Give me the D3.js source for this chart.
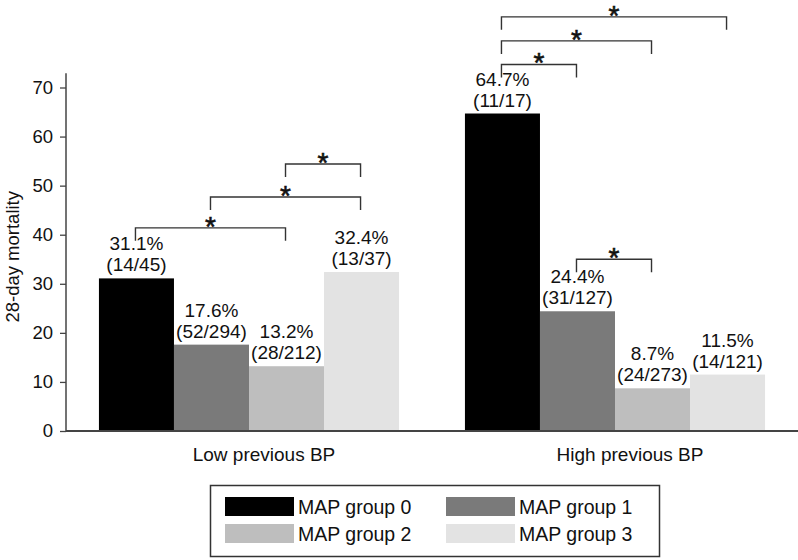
<!DOCTYPE html>
<html>
<head>
<meta charset="utf-8">
<script src="https://cdn.jsdelivr.net/npm/d3@7"></script>
<style>
  html, body { margin: 0; padding: 0; background: #fff; }
  svg { display: block; font-family: "Liberation Sans", Arial, Helvetica, sans-serif; }
</style>
</head>
<body>
<svg id="chart" width="798" height="560"></svg>
<script>
// ---- data ----
const categories = ["Low previous BP", "High previous BP"];
const groups = ["MAP group 0", "MAP group 1", "MAP group 2", "MAP group 3"];
const lowValues = [31.1, 17.6, 13.2, 32.4];
const highValues = [64.7, 24.4, 8.7, 11.5];
const lowCounts = ["(14/45)", "(52/294)", "(28/212)", "(13/37)"];
const highCounts = ["(11/17)", "(31/127)", "(24/273)", "(14/121)"];
const yTicks = [0, 10, 20, 30, 40, 50, 60, 70];
const colors = ["#000000", "#7a7a7a", "#bebebe", "#e3e3e3"];
// significance brackets: [from bar, to bar, level (y units)]
const lowBrackets = [[0, 2, 41.4], [1, 3, 47.7], [2, 3, 54.4]];
const highBrackets = [[0, 1, 74.7], [0, 2, 79.5], [0, 3, 84.4], [1, 2, 35.0]];
const yTitle = "28-day mortality";

const values = [lowValues, highValues];
const counts = [lowCounts, highCounts];
const brackets = [lowBrackets, highBrackets];

// ---- layout ----
const svg = d3.select("#chart");
const axisX = 66;
const x0 = d3.scaleBand().domain(categories).range([axisX, 798])
  .paddingInner(0.18).paddingOuter(0.09);
const x1 = d3.scaleBand().domain(groups).range([0, x0.bandwidth()]).padding(0);
const y = d3.scaleLinear().domain([0, 70]).range([431, 87.5]);
const color = d3.scaleOrdinal().domain(groups).range(colors);

// y axis
const yAxis = svg.append("g")
  .attr("transform", `translate(${axisX},0)`)
  .call(d3.axisLeft(y).tickValues(yTicks).tickSize(6).tickSizeOuter(0).tickPadding(7));
yAxis.select(".domain").remove();
yAxis.selectAll(".tick line").attr("stroke", "#444").attr("stroke-width", 1.3);
yAxis.selectAll(".tick text")
  .attr("font-size", 18.5).attr("fill", "#111")
  .attr("font-family", "'Liberation Sans', Arial, sans-serif");
yAxis.append("line")
  .attr("x1", 0).attr("x2", 0).attr("y1", y(0)).attr("y2", y(72.9))
  .attr("stroke", "#444").attr("stroke-width", 1.5);

svg.append("text")
  .attr("transform", `translate(19,${y(35.5)}) rotate(-90)`)
  .attr("text-anchor", "middle")
  .attr("font-size", 18.5).attr("fill", "#111")
  .text(yTitle);

// bars
const cat = svg.selectAll("g.cat").data(categories).enter().append("g")
  .attr("class", "cat")
  .attr("transform", d => `translate(${x0(d)},0)`);

cat.each(function(c, ci) {
  const g = d3.select(this);
  const rows = groups.map((gName, i) => ({ g: gName, v: values[ci][i], n: counts[ci][i] }));
  g.selectAll("rect").data(rows).enter().append("rect")
    .attr("x", d => x1(d.g))
    .attr("y", d => y(d.v))
    .attr("width", x1.bandwidth())
    .attr("height", d => y(0) - y(d.v))
    .attr("fill", d => color(d.g));
  const lab = g.selectAll("text.lab").data(rows).enter().append("text")
    .attr("class", "lab")
    .attr("text-anchor", "middle")
    .attr("font-size", 19).attr("fill", "#111")
    .attr("x", d => x1(d.g) + x1.bandwidth() / 2)
    .attr("y", d => y(d.v) - 7);
  lab.append("tspan").attr("x", d => x1(d.g) + x1.bandwidth() / 2).attr("dy", -21)
    .text(d => d.v.toFixed(1) + "%");
  lab.append("tspan").attr("x", d => x1(d.g) + x1.bandwidth() / 2).attr("dy", 21)
    .text(d => d.n);

  // brackets
  const bx = i => x1(groups[i]) + x1.bandwidth() / 2 - 1;
  const bg = g.selectAll("g.br").data(brackets[ci]).enter().append("g").attr("class", "br");
  bg.append("path")
    .attr("d", d => `M${bx(d[0])},${y(d[2]) + 13}V${y(d[2])}H${bx(d[1])}V${y(d[2]) + 13}`)
    .attr("fill", "none").attr("stroke", "#333").attr("stroke-width", 1.4);
  bg.append("text")
    .attr("x", d => (bx(d[0]) + bx(d[1])) / 2)
    .attr("y", d => y(d[2]) + 8)
    .attr("text-anchor", "middle")
    .attr("font-size", 28).attr("fill", "#111")
    .attr("stroke", "#111").attr("stroke-width", 0.6)
    .text("*");
});

// x baseline
svg.append("line")
  .attr("x1", axisX).attr("x2", 798).attr("y1", y(0)).attr("y2", y(0))
  .attr("stroke", "#444").attr("stroke-width", 2);

// category labels
svg.selectAll("text.cat").data(categories).enter().append("text")
  .attr("class", "cat")
  .attr("x", d => x0(d) + x0.bandwidth() / 2 + 15)
  .attr("y", 461)
  .attr("text-anchor", "middle")
  .attr("font-size", 19).attr("fill", "#111")
  .text(d => d);

// legend
const lg = svg.append("g");
lg.append("rect").attr("x", 210.5).attr("y", 485.5).attr("width", 449).attr("height", 71)
  .attr("fill", "#fff").attr("stroke", "#333").attr("stroke-width", 1.5);
const items = lg.selectAll("g.it").data(groups).enter().append("g")
  .attr("transform", (d, i) => `translate(${225 + (i % 2) * 221},${497 + Math.floor(i / 2) * 27})`);
items.append("rect").attr("width", 69).attr("height", 19).attr("fill", d => color(d));
items.append("text").attr("x", 73).attr("y", 17)
  .attr("font-size", 19.5).attr("fill", "#111").text(d => d);
</script>
</body>
</html>
